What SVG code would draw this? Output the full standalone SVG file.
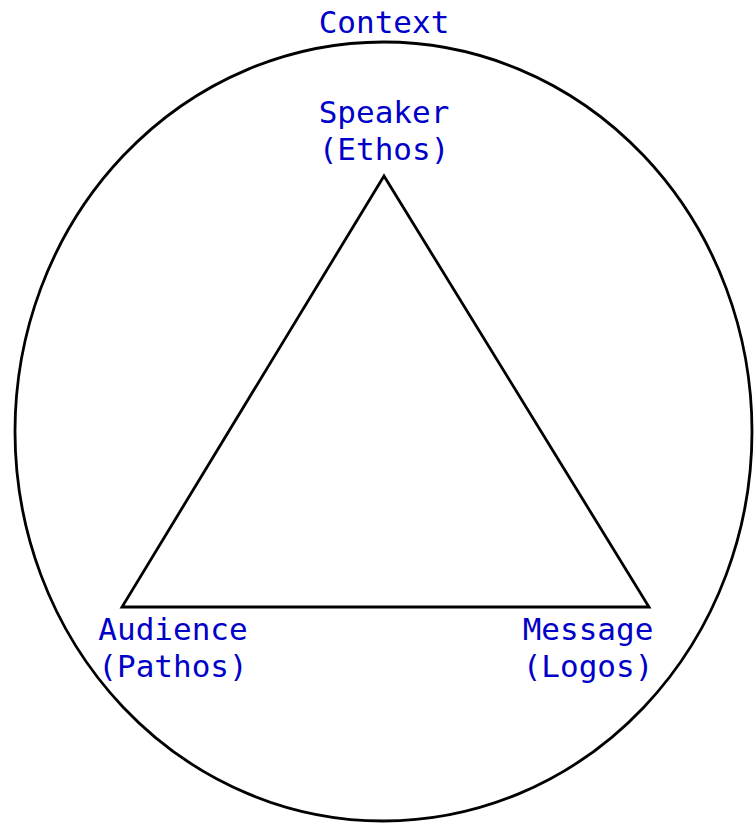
<svg xmlns="http://www.w3.org/2000/svg" width="754" height="823" viewBox="0 0 754 823">
<style>
.lbl{font-family:"DejaVu Sans Mono","Liberation Mono",monospace;font-size:31px;fill:#0000c8;text-anchor:middle}
.ln{fill:none;stroke:#000;stroke-width:2.8}
</style>
<rect width="754" height="823" fill="#fff"/>
<g id="context">
<ellipse class="ln" cx="383.5" cy="431.5" rx="368.5" ry="389.5"/>
<text class="lbl" x="384" y="33">Context</text>
</g>
<g id="connectors">
<polygon class="ln" points="384,176 122,607 649,607" stroke-linejoin="miter"/>
</g>
<g id="speaker">
<text class="lbl" x="384" y="123">Speaker</text>
<text class="lbl" x="384" y="160">(Ethos)</text>
</g>
<g id="audience">
<text class="lbl" x="173" y="640">Audience</text>
<text class="lbl" x="173" y="677">(Pathos)</text>
</g>
<g id="message">
<text class="lbl" x="588" y="640">Message</text>
<text class="lbl" x="588" y="677">(Logos)</text>
</g>
</svg>
